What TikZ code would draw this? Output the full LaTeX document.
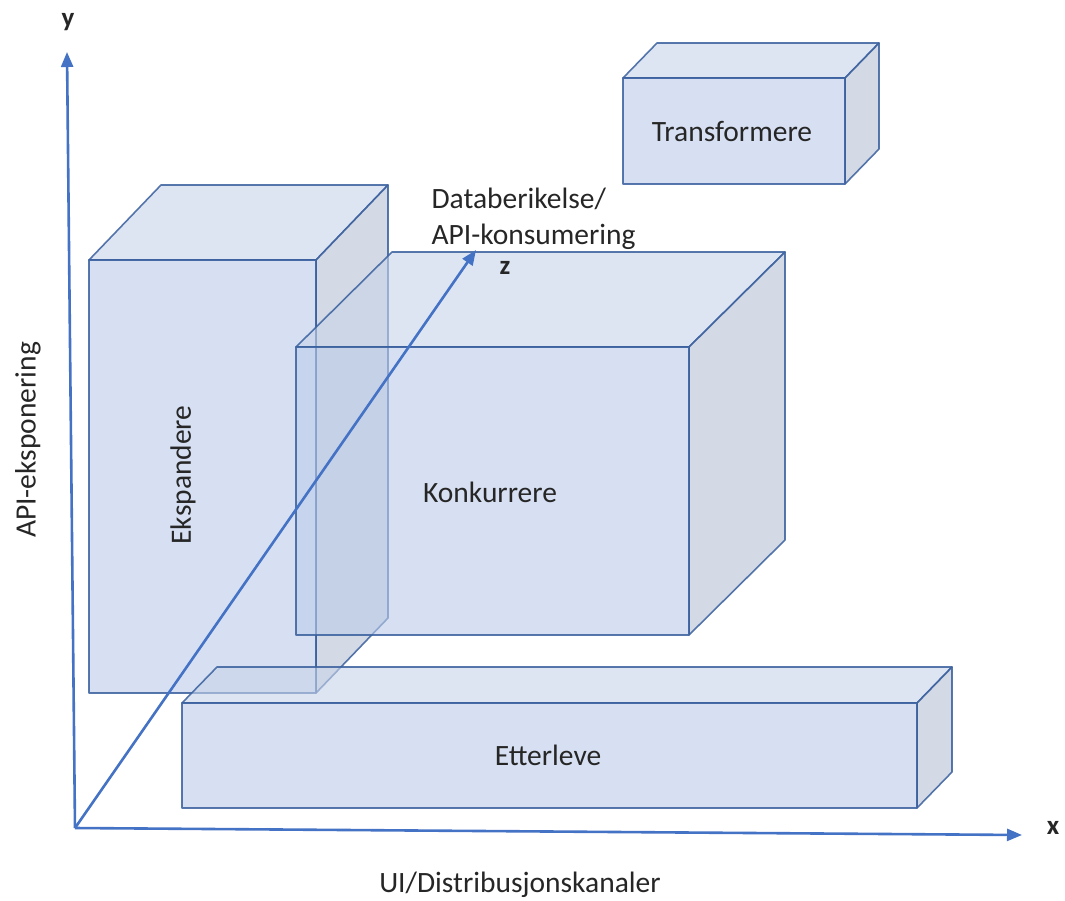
\documentclass[tikz,border=0pt]{standalone}
\usepackage{fontspec}
\setmainfont{Carlito}
\usetikzlibrary{arrows.meta}

\definecolor{frontblaa}{HTML}{BCCCEA}
\definecolor{toppblaa}{HTML}{C8D4EA}
\definecolor{sideblaa}{HTML}{B5C0D3}
\definecolor{kantblaa}{HTML}{3A609E}
\definecolor{aksblaa}{HTML}{4472C4}

% kasse: venstre x, topp y, hoyre x, bunn y, dybde dx, dybde dy
\newcommand{\kasse}[6]{%
  \draw[flate] (#1,#2) -- ({#3},#2) -- ({#3+#5},{#2-#6}) -- ({#1+#5},{#2-#6}) -- cycle;
  \draw[flate,fill=sideblaa] ({#3},#2) -- ({#3+#5},{#2-#6}) -- ({#3+#5},{#4-#6}) -- ({#3},#4) -- cycle;
  \draw[flate,fill=frontblaa] (#1,#2) rectangle (#3,#4);
}

\begin{document}
\begin{tikzpicture}[x=1pt,y=-1pt,
    flate/.style={draw=kantblaa,draw opacity=0.85,line width=1.6pt,fill=toppblaa,fill opacity=0.6,line join=round},
    akse/.style={draw=aksblaa,line width=2.6pt,-{Triangle[length=15pt,width=12pt]}},
    tekst/.style={font=\fontsize{29.5}{36}\selectfont,text=black!85},
    bokstav/.style={font=\fontsize{27}{32}\selectfont\bfseries,text=black!85}]
  \useasboundingbox (0,0) rectangle (1065,900);

  % kassene
  \kasse{89}{260}{316}{693}{72}{75}
  \node[tekst,rotate=90] (ekspandere) at (183,475) {Ekspandere};
  \kasse{296}{347}{689}{635}{96}{95}
  \node[tekst] (konkurrere) at (490,492) {Konkurrere};
  \kasse{182}{703}{917}{808}{35}{36}
  \node[tekst] (etterleve) at (548,755) {Etterleve};
  \kasse{623}{78}{845}{184}{34}{35}
  \node[tekst] (transformere) at (732,131) {Transformere};

  % akser
  \coordinate (origo) at (75,828);
  \coordinate (ytopp) at (67,52);
  \coordinate (xende) at (1022,835);
  \coordinate (zende) at (476,250);
  \draw[akse] (origo) -- (ytopp);
  \draw[akse] (origo) -- (xende);
  \draw[akse] (origo) -- (zende);

  \node[bokstav] (ylabel) at (68,22) {y};
  \node[bokstav] (xlabel) at (1053,828) {x};
  \node[bokstav] (zlabel) at (505,268) {z};
  \node[tekst,anchor=west,align=left] (zakse) at (428,219) {Databerikelse/\\API-konsumering};
  \node[tekst] (xakse) at (520,885) {UI/Distribusjonskanaler};
  \node[tekst,rotate=90] (yakse) at (28,440) {API-eksponering};
\end{tikzpicture}
\end{document}
